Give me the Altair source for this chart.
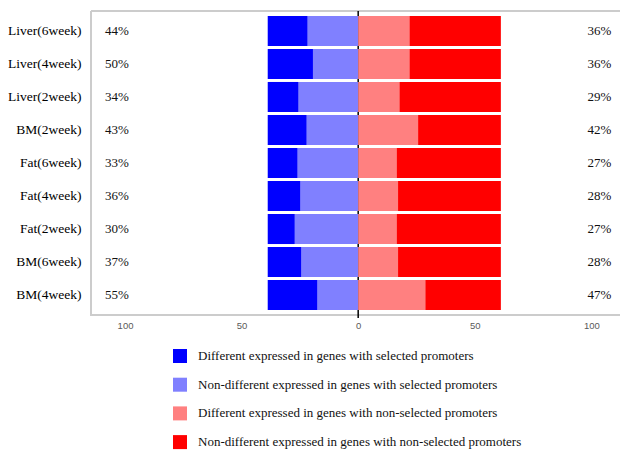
import altair as alt
import pandas as pd

groups = ["Liver(6week)", "Liver(4week)", "Liver(2week)", "BM(2week)", "Fat(6week)",
          "Fat(4week)", "Fat(2week)", "BM(6week)", "BM(4week)"]
# selected promoters (left side): different / non-different expressed
sel_diff = [17.1, 19.4, 13.2, 16.7, 12.8, 14.0, 11.6, 14.4, 21.3]
sel_nondiff = [21.7, 19.4, 25.6, 22.1, 26.0, 24.8, 27.2, 24.4, 17.5]
# non-selected promoters (right side): different / non-different expressed
non_diff = [22.0, 22.0, 17.7, 25.7, 16.5, 17.1, 16.5, 17.1, 28.8]
non_nondiff = [39.2, 39.2, 43.5, 35.5, 44.7, 44.1, 44.7, 44.1, 32.4]
left_pct = ["44%", "50%", "34%", "43%", "33%", "36%", "30%", "37%", "55%"]
right_pct = ["36%", "36%", "29%", "42%", "27%", "28%", "27%", "28%", "47%"]

cats = ["Different expressed in genes with selected promoters",
        "Non-different expressed in genes with selected promoters",
        "Different expressed in genes with non-selected promoters",
        "Non-different expressed in genes with non-selected promoters"]
colors = ["#0000ff", "#8080ff", "#ff8080", "#ff0000"]

rows = []
for i, g in enumerate(groups):
    a = sel_nondiff[i]
    b = sel_diff[i]
    c = non_diff[i]
    d = non_nondiff[i]
    rows.append({"group": g, "cat": cats[1], "x": -a, "x2": 0})
    rows.append({"group": g, "cat": cats[0], "x": -(a + b), "x2": -a})
    rows.append({"group": g, "cat": cats[2], "x": 0, "x2": c})
    rows.append({"group": g, "cat": cats[3], "x": c, "x2": c + d})
bars_df = pd.DataFrame(rows)

lab_rows = []
for i, g in enumerate(groups):
    lab_rows.append({"group": g, "x": -103.5, "t": left_pct[i]})
    lab_rows.append({"group": g, "x": 103.5, "t": right_pct[i]})
lab_df = pd.DataFrame(lab_rows)

H = 304
W = 529
xscale = alt.Scale(domain=[-114.6, 112.3], nice=False, zero=False)
yscale = alt.Scale(domain=groups, paddingInner=0.09, paddingOuter=0.15)
frame_color = "#cccccc"

zero = alt.Chart(pd.DataFrame({"v": [0]})).mark_rule(color="black", strokeWidth=1.5).encode(
    x=alt.X("v:Q", scale=xscale,
            axis=alt.Axis(values=[-100, -50, 0, 50, 100], labelExpr="abs(datum.value)",
                          title=None, domain=False, ticks=False, grid=False,
                          labelFont="Liberation Sans", labelFontSize=9.5, labelColor="#5a5a5a",
                          labelPadding=5)),
    y=alt.value(0), y2=alt.value(H + 3)
)

frame_top = alt.Chart(pd.DataFrame({"v": [0]})).mark_rule(color=frame_color, strokeWidth=2).encode(
    x=alt.value(0), x2=alt.value(W + 5), y=alt.value(0))
frame_bottom = alt.Chart(pd.DataFrame({"v": [0]})).mark_rule(color=frame_color, strokeWidth=2).encode(
    x=alt.value(0), x2=alt.value(W + 5), y=alt.value(H))
frame_left = alt.Chart(pd.DataFrame({"v": [0]})).mark_rule(color=frame_color, strokeWidth=2).encode(
    x=alt.value(0), y=alt.value(0), y2=alt.value(H + 1))

bars = alt.Chart(bars_df).mark_bar().encode(
    x=alt.X("x:Q", scale=xscale),
    x2="x2:Q",
    y=alt.Y("group:N", scale=yscale, sort=groups,
            axis=alt.Axis(title=None, domain=False, ticks=False, grid=False,
                          labelFont="Liberation Serif", labelFontSize=13.5, labelColor="#000000",
                          labelPadding=10)),
    color=alt.Color("cat:N", scale=alt.Scale(domain=cats, range=colors),
                    legend=alt.Legend(title=None, orient="none", legendX=82, legendY=338,
                                      symbolType="square", symbolSize=196, symbolStrokeWidth=0,
                                      labelFont="Liberation Serif", labelFontSize=13,
                                      labelColor="#111111", labelOffset=11, rowPadding=14.7,
                                      padding=0, labelLimit=500))
)

texts = alt.Chart(lab_df).mark_text(font="Liberation Serif", fontSize=13, color="#111111",
                                    align="center", baseline="middle").encode(
    x=alt.X("x:Q", scale=xscale),
    y=alt.Y("group:N", scale=yscale, sort=groups),
    text="t:N"
)

chart = alt.layer(frame_top, frame_bottom, frame_left, zero, bars, texts).properties(
    width=W, height=H,
    autosize=alt.AutoSizeParams(type="none"),
    padding={"left": 91, "top": 11, "right": 0, "bottom": 136},
    background="white"
).configure_view(stroke=None)

chart.save("out.html", embed_options={"renderer": "svg", "actions": False})
